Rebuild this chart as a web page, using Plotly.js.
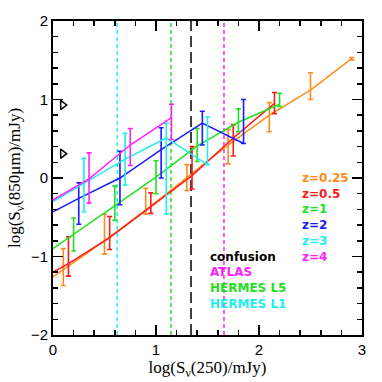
<!DOCTYPE html>
<html>
<head>
<meta charset="utf-8">
<script src="https://cdn.plot.ly/plotly-3.0.1.min.js"></script>
<style>
  body { margin: 0; background: #fff; }
  #plot { width: 382px; height: 382px; }
</style>
</head>
<body>
<div id="plot"></div>
<script>
// redshift bins: line vertices (first point is where the curve meets x=0), error bar top / bottom
var zNames = ['z=0.25', 'z=0.5', 'z=1', 'z=2', 'z=3', 'z=4'];
var zColors = ['#ff8c1a', '#ff1a1a', '#22e022', '#1a1aff', '#22eeee', '#ff22ff'];

var x_z025 = [0, 0.1, 0.5, 0.9, 1.3, 1.7, 2.1, 2.5, 2.9];
var y_z025 = [-1.26, -1.17, -0.80, -0.41, 0.0, 0.42, 0.80, 1.12, 1.52];
var hi_z025 = [NaN, -0.90, -0.46, -0.13, 0.17, 0.62, 0.96, 1.34, 1.535];
var lo_z025 = [NaN, -1.37, -0.97, -0.46, -0.16, 0.18, 0.59, 1.0, 1.505];

var x_z05 = [0, 0.15, 0.55, 0.95, 1.35, 1.75, 2.15];
var y_z05 = [-1.20, -1.09, -0.76, -0.37, 0.03, 0.51, 0.95];
var hi_z05 = [NaN, -0.75, -0.49, -0.19, 0.40, 0.68, 1.09];
var lo_z05 = [NaN, -1.25, -0.91, -0.45, -0.14, 0.28, 0.82];

var x_z1 = [0, 0.2, 0.6, 1.0, 1.4, 1.8, 2.2];
var y_z1 = [-0.90, -0.72, -0.35, 0.01, 0.41, 0.71, 0.94];
var hi_z1 = [NaN, -0.51, -0.10, 0.22, 0.63, 0.88, 1.08];
var lo_z1 = [NaN, -0.93, -0.54, -0.20, 0.21, 0.59, 0.91];

var x_z2 = [0, 0.25, 0.65, 1.05, 1.45, 1.85];
var y_z2 = [-0.43, -0.26, 0.0, 0.36, 0.70, 0.44];
var hi_z2 = [NaN, -0.06, 0.34, 0.64, 0.85, 1.0];
var lo_z2 = [NaN, -0.59, -0.34, 0.00, 0.42, 0.44];

var x_z3 = [0, 0.3, 0.7, 1.1, 1.5];
var y_z3 = [-0.30, -0.07, 0.24, 0.51, 0.17];
var hi_z3 = [NaN, 0.25, 0.57, 0.70, 0.78];
var lo_z3 = [NaN, -0.43, -0.09, -0.46, 0.17];

var x_z4 = [0, 0.35, 0.75, 1.15];
var y_z4 = [-0.28, -0.01, 0.42, 0.77];
var hi_z4 = [NaN, 0.32, 0.63, 0.94];
var lo_z4 = [NaN, -0.32, 0.16, 0.49];

// confusion limits
var confNames = ['confusion', 'ATLAS', 'HERMES L5', 'HERMES L1'];
var confX = [1.34, 1.66, 1.146, 0.624];
var confColors = ['#000000', '#ff22ff', '#22e022', '#22eeee'];

// open triangles near the left axis
var triX = [0.094, 0.094];
var triY = [0.93, 0.31];

var series = [
  [x_z025, y_z025, hi_z025, lo_z025],
  [x_z05, y_z05, hi_z05, lo_z05],
  [x_z1, y_z1, hi_z1, lo_z1],
  [x_z2, y_z2, hi_z2, lo_z2],
  [x_z3, y_z3, hi_z3, lo_z3],
  [x_z4, y_z4, hi_z4, lo_z4]
];

var traces = [];

for (var i = 0; i < confX.length; i++) {
  traces.push({
    x: [confX[i], confX[i]],
    y: [-2, 2],
    mode: 'lines',
    line: { color: confColors[i], width: 1.5, dash: i === 0 ? '11px,5px' : '4px,3px' },
    hoverinfo: 'skip'
  });
}

for (var i = 0; i < series.length; i++) {
  var s = series[i];
  var up = [], down = [];
  for (var j = 0; j < s[0].length; j++) {
    up.push(s[2][j] - s[1][j]);
    down.push(s[1][j] - s[3][j]);
  }
  traces.push({
    x: s[0],
    y: s[1],
    name: zNames[i],
    mode: 'lines',
    line: { color: zColors[i], width: 1.5 },
    error_y: {
      type: 'data', symmetric: false, array: up, arrayminus: down,
      color: zColors[i], thickness: 1.6, width: 2.5
    }
  });
}

traces.push({
  x: triX,
  y: triY,
  mode: 'markers',
  marker: { symbol: 'triangle-right-open', size: 8, color: '#000', line: { width: 1.5, color: '#000' } }
});

var annotations = [];
for (var i = 0; i < zNames.length; i++) {
  annotations.push({
    x: 2.4, y: -0.2 * i, xref: 'x', yref: 'y', text: '<b>' + zNames[i] + '</b>',
    showarrow: false, xanchor: 'left', yanchor: 'middle',
    font: { family: 'DejaVu Sans', size: 12, color: zColors[i] }
  });
}
for (var i = 0; i < confNames.length; i++) {
  annotations.push({
    x: 1.5, y: -1.0 - 0.2 * i, xref: 'x', yref: 'y', text: '<b>' + confNames[i] + '</b>',
    showarrow: false, xanchor: 'left', yanchor: 'middle',
    font: { family: 'DejaVu Sans', size: 12, color: confColors[i] }
  });
}

var axisStyle = {
  showgrid: false, zeroline: false,
  showline: true, linecolor: '#000', linewidth: 2, mirror: 'ticks',
  ticks: 'inside', ticklen: 10, tickwidth: 1.5, tickcolor: '#000',
  tickfont: { family: 'Liberation Sans', size: 15, color: '#000' }
};

var layout = {
  width: 382, height: 382,
  margin: { l: 53, r: 20, t: 21, b: 47 },
  paper_bgcolor: '#fff', plot_bgcolor: '#fff',
  showlegend: false,
  xaxis: Object.assign({}, axisStyle, {
    range: [0, 3], dtick: 1,
    minor: { dtick: 0.2, ticks: 'inside', ticklen: 5, tickwidth: 1.5, tickcolor: '#000' },
    title: { text: 'log(S<sub>ν</sub>(250)/mJy)', font: { family: 'Liberation Serif', size: 17, color: '#000' }, standoff: 4 }
  }),
  yaxis: Object.assign({}, axisStyle, {
    range: [-2, 2], dtick: 1,
    minor: { dtick: 0.2, ticks: 'inside', ticklen: 5, tickwidth: 1.5, tickcolor: '#000' },
    title: { text: 'log(S<sub>ν</sub>(850μm)/mJy)', font: { family: 'Liberation Serif', size: 17, color: '#000' }, standoff: 6 }
  }),
  annotations: annotations
};

Plotly.newPlot('plot', traces, layout, { staticPlot: true });
</script>
</body>
</html>
